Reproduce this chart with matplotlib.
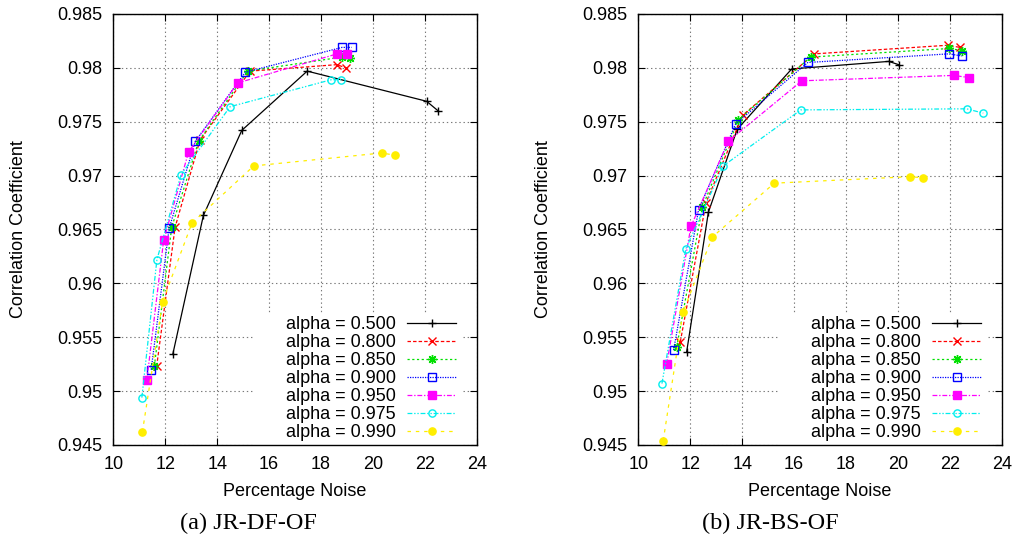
import matplotlib
matplotlib.use("Agg")
import matplotlib.pyplot as plt
from matplotlib.patches import Rectangle
from matplotlib.ticker import FuncFormatter, MultipleLocator

plt.rcParams['font.family'] = ['Liberation Sans', 'DejaVu Sans']
plt.rcParams['lines.scale_dashes'] = False

labels = ['alpha = 0.500', 'alpha = 0.800', 'alpha = 0.850', 'alpha = 0.900',
          'alpha = 0.950', 'alpha = 0.975', 'alpha = 0.990']

# (a) JR-DF-OF
df_x = [
    [12.29, 13.47, 14.95, 17.47, 22.07, 22.52],
    [11.67, 12.38, 13.34, 15.27, 18.62, 18.95],
    [11.58, 12.25, 13.29, 15.18, 18.80, 19.13],
    [11.46, 12.15, 13.16, 15.09, 18.81, 19.18],
    [11.29, 11.94, 12.90, 14.79, 18.62, 18.99],
    [11.10, 11.68, 12.61, 14.50, 18.40, 18.78],
    [11.12, 11.90, 13.03, 15.41, 20.34, 20.84],
]
df_y = [
    [0.9534, 0.9663, 0.9742, 0.9797, 0.9769, 0.9760],
    [0.9523, 0.9652, 0.9733, 0.9797, 0.9803, 0.9800],
    [0.9523, 0.9652, 0.9732, 0.9797, 0.9810, 0.9809],
    [0.9520, 0.9651, 0.9732, 0.9796, 0.9819, 0.9819],
    [0.9510, 0.9640, 0.9722, 0.9786, 0.9813, 0.9813],
    [0.9494, 0.9622, 0.9701, 0.9764, 0.9789, 0.9789],
    [0.9462, 0.9583, 0.9656, 0.9709, 0.9721, 0.9719],
]

# (b) JR-BS-OF
bs_x = [
    [11.86, 12.70, 13.81, 15.91, 19.65, 20.03],
    [11.62, 12.61, 14.02, 16.78, 21.93, 22.39],
    [11.48, 12.47, 13.86, 16.64, 21.98, 22.48],
    [11.36, 12.32, 13.75, 16.53, 21.96, 22.48],
    [11.09, 12.03, 13.47, 16.30, 22.15, 22.74],
    [10.91, 11.83, 13.27, 16.26, 22.65, 23.29],
    [10.96, 11.72, 12.85, 15.24, 20.47, 20.98],
]
bs_y = [
    [0.9536, 0.9666, 0.9743, 0.9799, 0.9806, 0.9803],
    [0.9546, 0.9675, 0.9756, 0.9813, 0.9821, 0.9819],
    [0.9541, 0.9671, 0.9752, 0.9810, 0.9818, 0.9816],
    [0.9538, 0.9668, 0.9748, 0.9805, 0.9813, 0.9811],
    [0.9525, 0.9653, 0.9732, 0.9788, 0.9793, 0.9791],
    [0.9507, 0.9632, 0.9709, 0.9761, 0.9762, 0.9758],
    [0.9454, 0.9573, 0.9643, 0.9693, 0.9699, 0.9698],
]

x_ticks = [10, 12, 14, 16, 18, 20, 22, 24]
captions = ['(a) JR-DF-OF', '(b) JR-BS-OF']

colors = ['black', '#ff0000', '#00e000', '#0000ff', '#ff00ff', '#00eeee', '#ffee00']
linestyles = ['-', (0, (2.5, 1.5)), (0, (1.6, 1.8)), (0, (0.9, 0.9)),
              (0, (3.5, 1.3, 1.0, 1.3)), (0, (3.5, 1.3, 1.0, 1.3, 1.0, 1.3)), (0, (2.5, 3.5))]
markers = ['+', 'x', (8, 2, 0), 's', 's', 'o', 'o']
filled = [True, True, True, False, True, False, True]
msizes = [6, 5.5, 6.5, 5.2, 5.2, 5.2, 5.2]

W, H = 1019, 545
fig = plt.figure(figsize=(W / 100, H / 100), dpi=100)

axes_left_px = [113.3, 638.3]
ax_w_px, ax_top_px, ax_bot_px = 363.4, 14, 445

for k, (xs, ys) in enumerate([(df_x, df_y), (bs_x, bs_y)]):
    ax = fig.add_axes([axes_left_px[k] / W, (H - ax_bot_px) / H,
                       ax_w_px / W, (ax_bot_px - ax_top_px) / H])
    ax.set_axisbelow(True)
    ax.grid(True, color='#7a7a7a', linestyle=(0, (1, 2)), linewidth=0.8)
    ax.add_patch(Rectangle((0.3844, 0), 0.9623 - 0.3844, 0.3063, transform=ax.transAxes,
                           facecolor='white', edgecolor='none', zorder=1))
    for i in range(len(labels)):
        mfc = colors[i] if filled[i] else 'none'
        ax.plot(xs[i], ys[i], color=colors[i], linestyle=linestyles[i], linewidth=0.9,
                marker=markers[i], markersize=msizes[i], markerfacecolor=mfc,
                markeredgecolor=colors[i], markeredgewidth=1.0, label=labels[i], zorder=3)
    ax.set_xlim(10, 24)
    ax.set_ylim(0.945, 0.985)
    ax.set_xticks(x_ticks)
    ax.yaxis.set_major_locator(MultipleLocator(0.005))
    ax.yaxis.set_major_formatter(FuncFormatter(lambda v, p: '%g' % round(v, 3)))
    ax.tick_params(direction='in', length=5, width=0.8, top=True, right=True,
                   labelsize=13, pad=8, colors='black')
    for s in ax.spines.values():
        s.set_linewidth(1.0)
    leg = ax.legend(loc='lower left', bbox_to_anchor=(0.4752, 0.0082), frameon=False,
                    markerfirst=False, numpoints=1, fontsize=13, borderpad=0,
                    borderaxespad=0, handlelength=2.72, handletextpad=0.61,
                    labelspacing=0.06)
    leg.set_zorder(5)
    cx = (axes_left_px[k] + ax_w_px / 2) / W
    fig.text(cx, (H - 491) / H, 'Percentage Noise', ha='center', va='center', fontsize=13)
    fig.text((axes_left_px[k] - 95) / W, (H - 229.5) / H, 'Correlation Coefficient',
             rotation=90, ha='center', va='center', fontsize=13)
    capx = [248, 770][k]
    fig.text(capx / W, (H - 523) / H, captions[k], ha='center', va='center',
             fontsize=17.5, family=['Liberation Serif', 'DejaVu Serif'])

fig.savefig('out.png', dpi=100)
